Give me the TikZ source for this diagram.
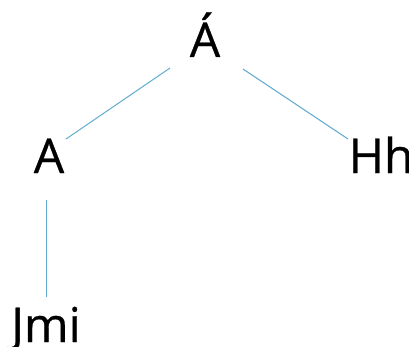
\documentclass[tikz,border=0pt]{standalone}
\usepackage{fontspec}
\newfontfamily\lblfont{Open Sans}[FakeBold=0.6]
\begin{document}
\begin{tikzpicture}[x=1pt,y=1pt,
  label/.style={inner sep=0pt, anchor=base, font=\lblfont\fontsize{48}{50}\selectfont},
  edge/.style={draw=edgeblue, line width=1pt}]
\definecolor{edgeblue}{RGB}{96,172,208}
\useasboundingbox (0,0) rectangle (409,346);
% tree labels, placed on their baselines
\node[label] (root) at (205,289) {Á};
\node[label] (left) at (49,173) {A};
\node[label] (right) at (381,173) {Hh};
\node[label] (leaf) at (46,4) {Jmi};
% branches
\draw[edge] ([shift={(-35,-11)}]root.base) -- ([shift={(17,34)}]left.base);
\draw[edge] ([shift={(38,-12)}]root.base) -- ([shift={(-33,34)}]right.base);
\draw[edge] ([shift={(-3,-27)}]left.base) -- ([shift={(0,45)}]leaf.base);
\end{tikzpicture}
\end{document}
